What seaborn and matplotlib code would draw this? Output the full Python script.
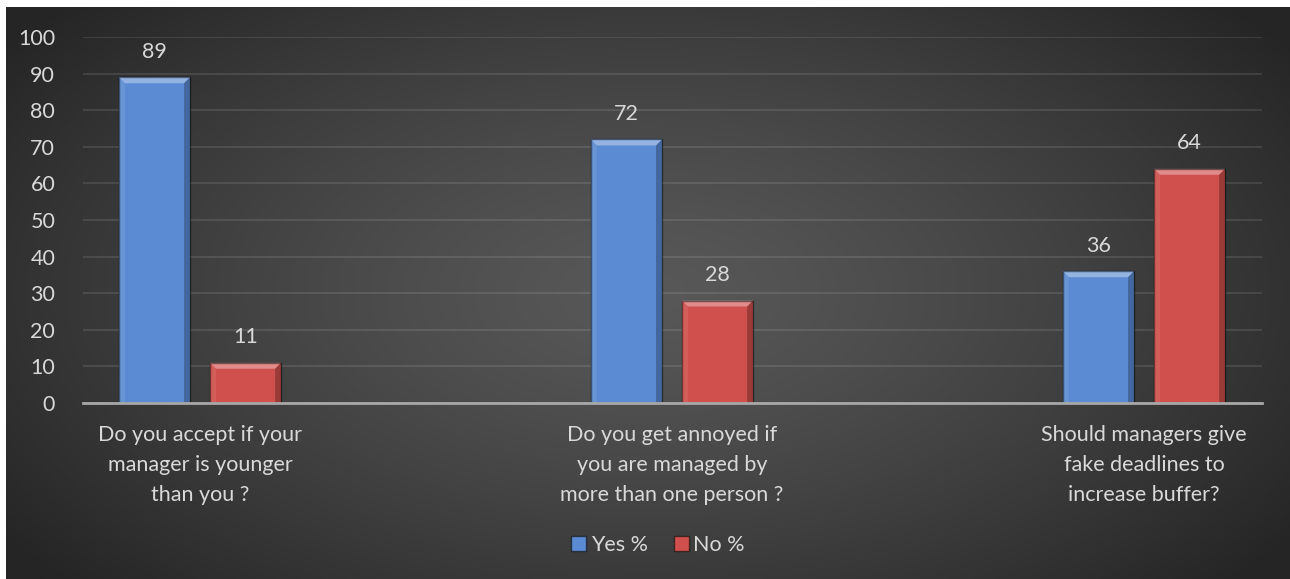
import numpy as np
import pandas as pd
import matplotlib
matplotlib.use("Agg")
import matplotlib.pyplot as plt
from matplotlib.patches import Rectangle, Polygon
import seaborn as sns

categories = ["Do you accept if your\nmanager is younger\nthan you ?",
              "Do you get annoyed if\nyou are managed by\nmore than one person ?",
              "Should managers give\nfake deadlines to\nincrease buffer?"]
series = ["Yes %", "No %"]
yes_vals = [89, 72, 36]
no_vals = [11, 28, 64]
yticks = [0, 10, 20, 30, 40, 50, 60, 70, 80, 90, 100]

colors = {"Yes %": "#5b8bd2", "No %": "#cf504c"}
text_col = "#d9d9d9"

df = pd.DataFrame({
    "category": categories * 2,
    "series": [series[0]] * 3 + [series[1]] * 3,
    "value": yes_vals + no_vals,
})

sns.set_theme(style="dark")
plt.rcParams["font.family"] = ["Lato", "DejaVu Sans"]

W, H = 1290, 579
fig = plt.figure(figsize=(W / 100, H / 100), dpi=100, facecolor="white")

# background radial gradient
bg = fig.add_axes([6 / W, 0, 1 - 6 / W, 1 - 7 / H])
bg.set_axis_off()
yy, xx = np.mgrid[0:1:300j, 0:1:600j]
r = np.sqrt(((xx - 0.5) / 0.62) ** 2 + ((yy - 0.5) / 0.75) ** 2)
r = np.clip(r, 0, 1)
c0, c1 = 0x58 / 255, 0x25 / 255
img = c0 + (c1 - c0) * r ** 1.3
bg.imshow(np.dstack([img, img, img]), aspect="auto", extent=[0, 1, 0, 1])
bg.set_xlim(0, 1)
bg.set_ylim(0, 1)

ax = fig.add_axes([83 / W, 1 - 403 / H, (1262 - 83) / W, (403 - 37) / H])
ax.patch.set_alpha(0)

sns.barplot(data=df, x="category", y="value", hue="series", order=categories,
            hue_order=series, palette=colors, width=0.386, gap=0.22,
            saturation=1, ax=ax, legend=False, edgecolor="none")

ax.set_xlim(-0.248, 2.25)
ax.set_ylim(0, 100)
ax.set_yticks(yticks)
ax.set_axisbelow(True)
ax.yaxis.grid(True, color="white", alpha=0.12, linewidth=1.2)
ax.xaxis.grid(False)
for s in ["top", "right", "left"]:
    ax.spines[s].set_visible(False)
ax.spines["bottom"].set_color("#a8a8a8")
ax.spines["bottom"].set_linewidth(2)
ax.set_xlabel("")
ax.set_ylabel("")
ax.tick_params(axis="y", colors=text_col, labelsize=15.5, length=0, pad=20)
ax.tick_params(axis="x", colors=text_col, labelsize=15.5, length=0, pad=16)
for lab in ax.get_xticklabels():
    lab.set_linespacing(1.62)
for lab in ax.get_yticklabels():
    lab.set_horizontalalignment("right")

for cont in ax.containers:
    ax.bar_label(cont, fmt="%d", padding=11, color=text_col, fontsize=15.5)

# bevel effect on bars
fig.canvas.draw()
inv = ax.transData.inverted()
for p in list(ax.patches):
    x0, y0 = p.get_x(), p.get_y()
    w, h = p.get_width(), p.get_height()
    (px0, py0) = ax.transData.transform((x0, y0))
    (px1, py1) = ax.transData.transform((x0 + w, y0 + h))
    d = 6
    top = [(px0, py1), (px1, py1), (px1 - d, py1 - d), (px0 + d, py1 - d)]
    left = [(px0, py0), (px0, py1), (px0 + d, py1 - d), (px0 + d, py0)]
    right = [(px1, py0), (px1, py1), (px1 - d, py1 - d), (px1 - d, py0)]
    for pts, col, a in [(top, "white", 0.35), (left, "white", 0.08), (right, "black", 0.25)]:
        dpts = inv.transform(pts)
        ax.add_patch(Polygon(dpts, closed=True, facecolor=col, alpha=a, edgecolor="none"))
    ax.add_patch(Rectangle((x0, y0), w, h, fill=False, edgecolor=(0, 0, 0, 0.45), linewidth=1))

handles = [Rectangle((0, 0), 1, 1, facecolor=colors[s], edgecolor=(0, 0, 0, 0.5)) for s in series]
leg = fig.legend(handles, series, loc="center", bbox_to_anchor=(0.51, 1 - 545 / H), ncol=2,
                 frameon=False, fontsize=15.5, handlelength=0.7, handleheight=0.7,
                 handletextpad=0.2, columnspacing=1.2)
for t in leg.get_texts():
    t.set_color(text_col)

fig.savefig("out.png", dpi=100, facecolor="white")
